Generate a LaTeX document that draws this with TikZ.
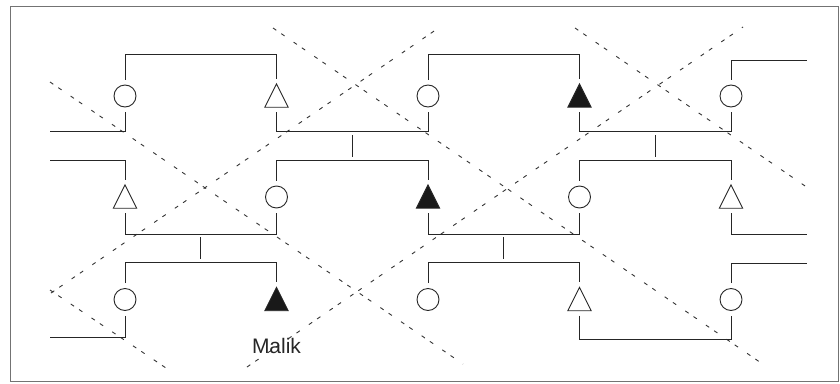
\documentclass[tikz,border=0pt]{standalone}
\usepackage{fontspec}
\setmainfont{Liberation Sans}
\usetikzlibrary{calc}
\tikzset{
  ln/.style={line width=0.9pt, draw=black!85},
  dsh/.style={line width=0.9pt, draw=black!80, dash pattern=on 4pt off 6pt on 4pt off 11pt},
  circ/.style={circle, draw=black!85, line width=0.9pt, minimum size=22pt, inner sep=0pt},
  trisp/.style={rectangle, draw=none, minimum width=23pt, minimum height=23pt, inner sep=0pt},
  lbl/.style={font=\fontsize{21}{24}\selectfont, text=black!85, inner sep=0pt}
}
\newcommand{\opentri}[1]{\draw[ln, line join=miter] (#1.north) -- (#1.south west) -- (#1.south east) -- cycle;}
\newcommand{\filltri}[1]{\filldraw[ln, fill=black!90, line join=miter] (#1.north) -- (#1.south west) -- (#1.south east) -- cycle;}
\begin{document}
\begin{tikzpicture}[x=1pt,y=-1pt]
\useasboundingbox (0,0) rectangle (840,383);
\draw[line width=0.9pt, draw=black!55] (10,6) rectangle (838.5,381.5);

% dashed diagonals
\coordinate (d1a) at (50,82);   \coordinate (d1b) at (463,364);
\coordinate (d2a) at (273,28);  \coordinate (d2b) at (767,367);
\coordinate (d3a) at (575,28);  \coordinate (d3b) at (808,188);
\coordinate (d4a) at (50,290);  \coordinate (d4b) at (166,368);
\coordinate (a1a) at (51,293);  \coordinate (a1b) at (440,27);
\coordinate (a2a) at (247,367); \coordinate (a2b) at (743,27);
\draw[dsh] (d1a) -- (d1b);
\draw[dsh] (d2a) -- (d2b);
\draw[dsh] (d3a) -- (d3b);
\draw[dsh] (d4a) -- (d4b);
\draw[dsh] (a1a) -- (a1b);
\draw[dsh] (a2a) -- (a2b);

% row 1
\node[circ]  (n11) at (125,96) {};
\node[trisp] (n12) at (276.5,95.5) {};
\node[circ]  (n13) at (428,96) {};
\node[trisp] (n14) at (579.5,95.5) {};
\node[circ]  (n15) at (731,96) {};
\opentri{n12}
\filltri{n14}
% row 2
\node[trisp] (n21) at (125,196.5) {};
\node[circ]  (n22) at (276.5,197) {};
\node[trisp] (n23) at (428,196.5) {};
\node[circ]  (n24) at (579.5,197) {};
\node[trisp] (n25) at (731,196.5) {};
\opentri{n21}
\filltri{n23}
\opentri{n25}
% row 3
\node[circ]  (n31) at (125,299.5) {};
\node[trisp] (n32) at (276.5,299) {};
\node[circ]  (n33) at (428,299.5) {};
\node[trisp] (n34) at (579.5,299) {};
\node[circ]  (n35) at (731,299.5) {};
\filltri{n32}
\opentri{n34}
\node[lbl] (malik) at (276.5,345.5) {Malik};

% free ends
\coordinate (l1) at (50,131.5);
\coordinate (r1) at (807,60.5);
\coordinate (l2) at (50,160);
\coordinate (r2) at (807,234);
\coordinate (l3) at (50,337);
\coordinate (r3) at (807,263);

% row 1 lines
\draw[ln] ([yshift=5pt]n11.north) -- ([yshift=5pt]n11.north |- 0,59.5) -- ([yshift=5pt]n12.north |- 0,59.5) -- ([yshift=5pt]n12.north);
\draw[ln] ([yshift=5pt]n13.north) -- ([yshift=5pt]n13.north |- 0,59.5) -- ([yshift=5pt]n14.north |- 0,59.5) -- ([yshift=5pt]n14.north);
\draw[ln] ([yshift=5pt]n15.north) -- (n15 |- r1) -- (r1);
\draw[ln] ([yshift=-5pt]n11.south) -- (n11 |- l1) -- (l1);
\draw[ln] ([yshift=-5pt]n12.south) -- (n12 |- 0,131.5) -- (n13 |- 0,131.5) -- ([yshift=-5pt]n13.south);
\draw[ln] ([yshift=-5pt]n14.south) -- (n14 |- 0,131.5) -- (n15 |- 0,131.5) -- ([yshift=-5pt]n15.south);
% row 2 lines
\draw[ln] ([yshift=5pt]n21.north) -- (n21 |- l2) -- (l2);
\draw[ln] ([yshift=5pt]n22.north) -- (n22 |- 0,160) -- (n23 |- 0,160) -- ([yshift=5pt]n23.north);
\draw[ln] ([yshift=5pt]n24.north) -- (n24 |- 0,160) -- (n25 |- 0,160) -- ([yshift=5pt]n25.north);
\draw[ln] ([yshift=-5pt]n21.south) -- (n21 |- 0,234) -- (n22 |- 0,234) -- ([yshift=-5pt]n22.south);
\draw[ln] ([yshift=-5pt]n23.south) -- (n23 |- 0,234) -- (n24 |- 0,234) -- ([yshift=-5pt]n24.south);
\draw[ln] ([yshift=-5pt]n25.south) -- (n25 |- r2) -- (r2);
% row 3 lines
\draw[ln] ([yshift=5pt]n31.north) -- (n31 |- 0,262) -- (n32 |- 0,262) -- ([yshift=5pt]n32.north);
\draw[ln] ([yshift=5pt]n33.north) -- (n33 |- 0,262) -- (n34 |- 0,262) -- ([yshift=5pt]n34.north);
\draw[ln] ([yshift=5pt]n35.north) -- (n35 |- r3) -- (r3);
\draw[ln] ([yshift=-5pt]n31.south) -- (n31 |- l3) -- (l3);
\draw[ln] ([yshift=-5pt]n34.south) -- (n34 |- 0,339) -- (n35 |- 0,339) -- ([yshift=-5pt]n35.south);

% ties between generations
\coordinate (m1) at ($(n12)!0.5!(n13)$);
\coordinate (m2) at ($(n14)!0.5!(n15)$);
\coordinate (m3) at ($(n21)!0.5!(n22)$);
\coordinate (m4) at ($(n23)!0.5!(n24)$);
\draw[ln] (m1 |- 0,135) -- (m1 |- 0,157);
\draw[ln] (m2 |- 0,135) -- (m2 |- 0,157);
\draw[ln] (m3 |- 0,237) -- (m3 |- 0,259);
\draw[ln] (m4 |- 0,237) -- (m4 |- 0,259);
\end{tikzpicture}
\end{document}
